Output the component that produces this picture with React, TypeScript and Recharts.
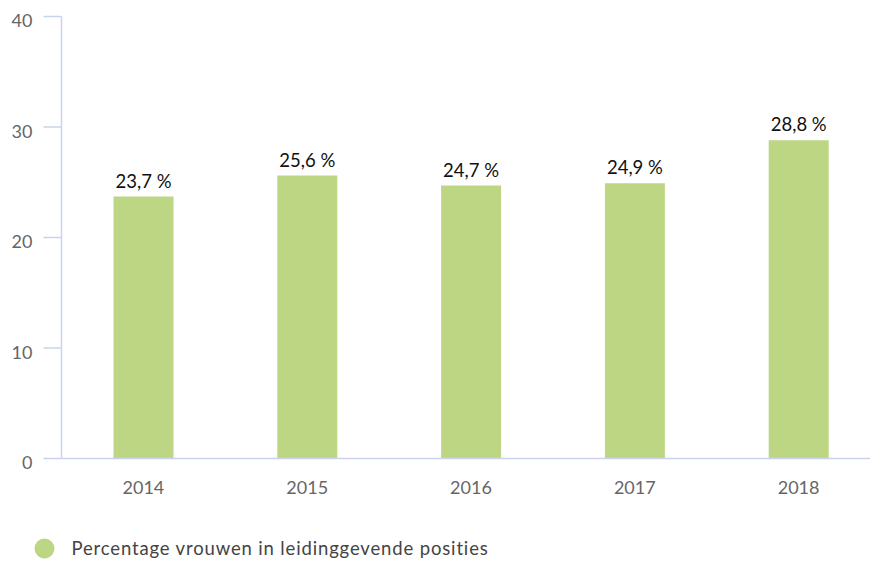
import { BarChart, Bar, XAxis, YAxis, Legend, LabelList } from "recharts";

const years = ["2014", "2015", "2016", "2017", "2018"];
const percentages = [23.7, 25.6, 24.7, 24.9, 28.8];
const yTicks = [0, 10, 20, 30, 40];
const seriesName = "Percentage vrouwen in leidinggevende posities";

const data = years.map((year, i) => ({ year, value: percentages[i] }));

const FONT = "Lato, 'Open Sans', sans-serif";
const BAR_COLOR = "#bdd684";
const AXIS_COLOR = "#cad3ed";

const formatPct = (v: number) => `${v.toFixed(1).replace(".", ",")} %`;

const YTick = ({ x, y, payload }: any) => (
  <text x={x} y={y + 10.5} textAnchor="end" fill="#666" fontSize={18} fontFamily={FONT}>
    {payload.value}
  </text>
);

const XTick = ({ x, y, payload }: any) => (
  <text x={x} y={y + 35.5} textAnchor="middle" fill="#666" fontSize={18} fontFamily={FONT}>
    {payload.value}
  </text>
);

const ValueLabel = ({ x, y, width, value }: any) => (
  <text
    x={x + width / 2}
    y={y - 9}
    textAnchor="middle"
    fill="#111"
    fontSize={18.5}
    fontFamily={FONT}
  >
    {formatPct(value)}
  </text>
);

const LegendContent = () => (
  <div style={{ display: "flex", alignItems: "center", fontFamily: FONT, height: 21 }}>
    <svg width={21} height={21}>
      <circle cx={10.5} cy={10.5} r={10} fill={BAR_COLOR} />
    </svg>
    <span
      style={{
        marginLeft: 17,
        fontSize: 18.5,
        letterSpacing: 0.85,
        color: "#444",
        whiteSpace: "nowrap",
        lineHeight: "21px",
      }}
    >
      {seriesName}
    </span>
  </div>
);

export default function App() {
  return (
    <div style={{ position: "absolute", left: 0, top: 0, width: 870, height: 561, background: "#fff" }}>
      <BarChart
        width={870}
        height={561}
        data={data}
        margin={{ top: 16.5, right: -10.5, left: 0, bottom: 12.5 }}
      >
        <XAxis
          dataKey="year"
          height={50}
          axisLine={{ stroke: AXIS_COLOR, strokeWidth: 1.5 }}
          tickLine={false}
          tickSize={0}
          tickMargin={0}
          tick={<XTick />}
        />
        <YAxis
          width={61.5}
          domain={[0, 40]}
          ticks={yTicks}
          interval={0}
          axisLine={{ stroke: AXIS_COLOR, strokeWidth: 1.5 }}
          tickLine={{ stroke: AXIS_COLOR, strokeWidth: 1.5 }}
          tickSize={18}
          tickMargin={11}
          tick={<YTick />}
        />
        <Legend
          height={40}
          content={<LegendContent />}
          wrapperStyle={{ left: 33.5, top: 537.5, bottom: "auto", width: "auto" }}
        />
        <Bar dataKey="value" name={seriesName} fill={BAR_COLOR} barSize={60} isAnimationActive={false}>
          <LabelList dataKey="value" content={<ValueLabel />} />
        </Bar>
      </BarChart>
    </div>
  );
}
